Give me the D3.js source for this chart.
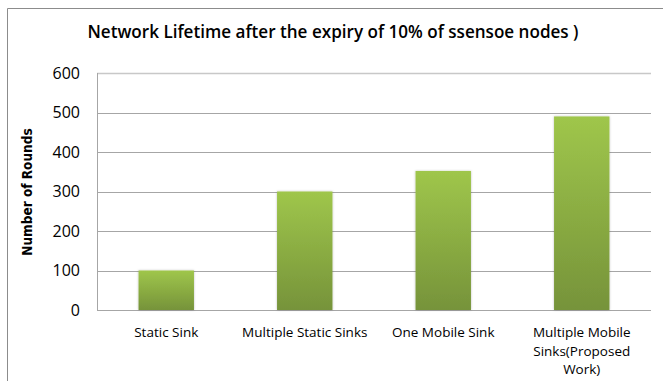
<!DOCTYPE html>
<html>
<head>
<meta charset="utf-8">
<script src="https://cdn.jsdelivr.net/npm/d3@7"></script>
<style>
  body { margin: 0; background: #fff; }
  svg text { font-family: "Open Sans", Lato, sans-serif; fill: #000; }
</style>
</head>
<body>
<div class="chart"></div>
<script>
const categories = ["Static Sink", "Multiple Static Sinks", "One Mobile Sink", "Multiple Mobile Sinks(Proposed Work)"];
const labelLines = [["Static Sink"], ["Multiple Static Sinks"], ["One Mobile Sink"], ["Multiple Mobile", "Sinks(Proposed", "Work)"]];
const rounds = [100, 300, 352, 490];
const yTicks = [0, 100, 200, 300, 400, 500, 600];

const W = 663, H = 381;
const margin = { top: 73, right: 12, bottom: 71, left: 97 };

const svg = d3.select(".chart").append("svg")
    .attr("width", W)
    .attr("height", H);

// shrink / grow a text so it spans a given width
function fitWidth(sel, target) {
    const node = sel.node();
    const fs = parseFloat(sel.attr("font-size"));
    const w = node.getComputedTextLength();
    sel.attr("font-size", (fs * target / w).toFixed(2));
}

// outer frame (only left + top edges visible)
svg.append("path")
    .attr("d", `M7.5,${H} V8.5 H${W}`)
    .attr("fill", "none")
    .attr("stroke", "#8c8c8c");

const defs = svg.append("defs");
const grad = defs.append("linearGradient")
    .attr("id", "barGrad")
    .attr("x1", 0).attr("y1", 0).attr("x2", 0).attr("y2", 1);
grad.append("stop").attr("offset", "0%").attr("stop-color", "#9fc64b");
grad.append("stop").attr("offset", "100%").attr("stop-color", "#76933a");

const filt = defs.append("filter").attr("id", "shadow")
    .attr("x", "-20%").attr("y", "-5%").attr("width", "140%").attr("height", "110%");
filt.append("feDropShadow")
    .attr("dx", 0).attr("dy", 0).attr("stdDeviation", 1.2)
    .attr("flood-color", "#000").attr("flood-opacity", 0.25);

const x = d3.scaleBand()
    .domain(categories)
    .range([margin.left, W - margin.right])
    .paddingInner(0.6)
    .paddingOuter(0.3);

const y = d3.scaleLinear()
    .domain([0, 600])
    .range([H - margin.bottom, margin.top]);

// gridlines
svg.append("g")
    .selectAll("line")
    .data(yTicks)
    .join("line")
    .attr("x1", margin.left)
    .attr("x2", W - margin.right)
    .attr("y1", d => Math.round(y(d)) + 0.5)
    .attr("y2", d => Math.round(y(d)) + 0.5)
    .attr("stroke", d => d === 600 ? "#c8c8c8" : "#a6a6a6")
    .attr("stroke-width", d => d === 600 ? 1.3 : 1);

// y axis line
svg.append("line")
    .attr("x1", margin.left + 0.5).attr("x2", margin.left + 0.5)
    .attr("y1", y(600)).attr("y2", y(0))
    .attr("stroke", "#a6a6a6");

// y tick labels
svg.append("g")
    .selectAll("text")
    .data(yTicks)
    .join("text")
    .attr("x", 80)
    .attr("y", d => y(d) + 5.5)
    .attr("text-anchor", "end")
    .attr("font-size", 16)
    .attr("fill", "#262626")
    .text(d => d);

// bars
svg.append("g")
    .selectAll("rect")
    .data(rounds)
    .join("rect")
    .attr("x", (d, i) => x(categories[i]))
    .attr("y", d => y(d))
    .attr("width", x.bandwidth())
    .attr("height", d => y(0) - y(d))
    .attr("fill", "url(#barGrad)")
    .attr("filter", "url(#shadow)");

// x labels
const xl = svg.append("g")
    .selectAll("text")
    .data(labelLines)
    .join("text")
    .attr("x", (d, i) => x(categories[i]) + x.bandwidth() / 2)
    .attr("y", 337)
    .attr("text-anchor", "middle")
    .attr("font-size", 13.5)
    .attr("fill", "#262626");
xl.selectAll("tspan")
    .data(d => d)
    .join("tspan")
    .attr("x", function() { return this.parentNode.getAttribute("x"); })
    .attr("dy", (d, i) => i === 0 ? 0 : 18.5)
    .text(d => d);

// title
const title = svg.append("text")
    .attr("x", 333)
    .attr("y", 38)
    .attr("text-anchor", "middle")
    .attr("font-size", 15)
    .attr("font-weight", 600)
    .text("Network Lifetime after the expiry of 10% of ssensoe nodes )");
fitWidth(title, 491);

// y axis title
svg.append("text")
    .attr("transform", `translate(32,${192}) rotate(-90)`)
    .attr("text-anchor", "middle")
    .attr("font-size", 13.5)
    .attr("font-weight", "bold")
    .style("font-family", "'Liberation Sans Narrow', 'DejaVu Sans Condensed', sans-serif")
    .text("Number of Rounds");
</script>
</body>
</html>
